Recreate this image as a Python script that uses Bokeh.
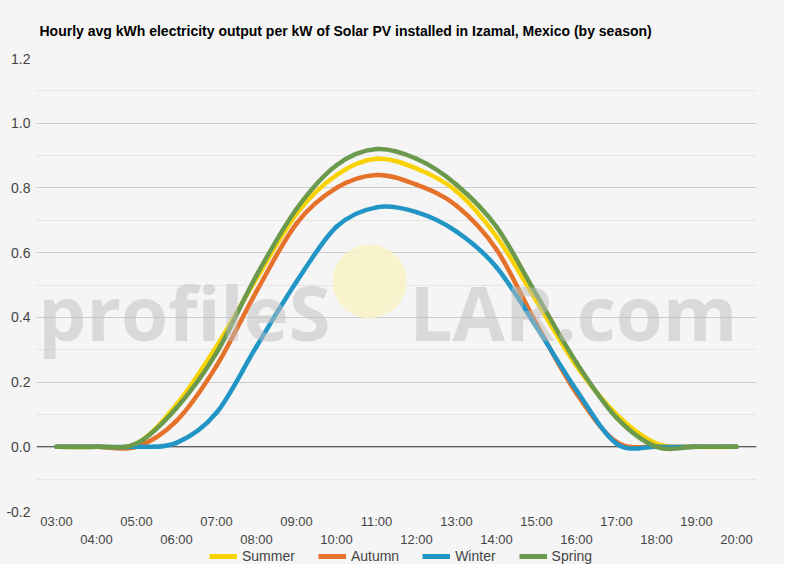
from bokeh.plotting import figure
from bokeh.models import (
    ColumnDataSource, Range1d, FixedTicker, LinearAxis, Legend, LegendItem,
    Span, Label, CustomJSTickFormatter
)
from bokeh.layouts import column
from bokeh.embed import file_html
from bokeh.resources import INLINE

# ---------------------------------------------------------------- data
hours = ["03:00", "04:00", "05:00", "06:00", "07:00", "08:00", "09:00", "10:00", "11:00",
         "12:00", "13:00", "14:00", "15:00", "16:00", "17:00", "18:00", "19:00", "20:00"]

summer = [0, 0, 0.01, 0.13, 0.31, 0.52, 0.72, 0.84, 0.89, 0.86, 0.79, 0.65, 0.45, 0.25, 0.10, 0.01, 0, 0]
autumn = [0, 0, 0, 0.08, 0.25, 0.48, 0.69, 0.80, 0.84, 0.81, 0.745, 0.61, 0.38, 0.165, 0.015, 0, 0, 0]
winter = [0, 0, 0, 0.012, 0.105, 0.31, 0.51, 0.68, 0.74, 0.725, 0.665, 0.555, 0.37, 0.175, 0.01, 0, 0, 0]
spring = [0, 0, 0.01, 0.12, 0.29, 0.53, 0.735, 0.87, 0.92, 0.89, 0.81, 0.68, 0.47, 0.26, 0.09, 0, 0, 0]

series_names = ["Summer", "Autumn", "Winter", "Spring"]
series_colors = ["#f9d300", "#e6712b", "#2196c6", "#6b9a4c"]
series_values = [summer, autumn, winter, spring]

y_ticks = [-0.2, 0.0, 0.2, 0.4, 0.6, 0.8, 1.0, 1.2]
y_minor = [-0.1, 0.1, 0.3, 0.5, 0.7, 0.9, 1.1]

FONT = "Liberation Sans"
BG = "#f5f5f5"


def smooth_segments(vals):
    """Catmull-Rom style bezier pieces through the hourly points (curveType function)."""
    n = len(vals)
    d = dict(x0=[], y0=[], x1=[], y1=[], cx0=[], cy0=[], cx1=[], cy1=[])
    for i in range(n - 1):
        prev = vals[i - 1] if i > 0 else vals[i]
        nxt = vals[i + 2] if i + 2 < n else vals[i + 1]
        d["x0"].append(i)
        d["y0"].append(vals[i])
        d["x1"].append(i + 1)
        d["y1"].append(vals[i + 1])
        d["cx0"].append(i + 1 / 3)
        d["cy0"].append(vals[i] + (vals[i + 1] - prev) / 6)
        d["cx1"].append(i + 2 / 3)
        d["cy1"].append(vals[i + 1] - (nxt - vals[i]) / 6)
    return ColumnDataSource(d)


# -------------------------------------------------------------- main figure
p = figure(
    frame_width=720, frame_height=453,
    x_range=Range1d(-0.5, len(hours) - 0.5),
    y_range=Range1d(-0.2, 1.2),
    output_backend="svg",
    toolbar_location=None,
    tools="",
    min_border_left=36, min_border_right=28, min_border_top=57, min_border_bottom=0,
    background_fill_color=BG,
    border_fill_color=BG,
    outline_line_color=None,
)

p.title.text = "Hourly avg kWh electricity output per kW of Solar PV installed in Izamal, Mexico (by season)"
p.title.text_font = FONT
p.title.text_font_size = "14px"
p.title.text_font_style = "bold"
p.title.text_color = "#000000"
p.title.align = "left"
p.title.offset = 3
p.title.standoff = 40

# y axis + grid
p.yaxis.ticker = FixedTicker(ticks=y_ticks, minor_ticks=y_minor)
p.yaxis.formatter = CustomJSTickFormatter(code="return tick.toFixed(1);")
p.yaxis.axis_line_color = None
p.yaxis.major_tick_line_color = None
p.yaxis.minor_tick_line_color = None
p.yaxis.major_tick_out = 0
p.yaxis.minor_tick_out = 0
p.yaxis.major_label_standoff = 6
p.yaxis.major_label_text_font = FONT
p.yaxis.major_label_text_font_size = "14px"
p.yaxis.major_label_text_color = "#444444"

p.xgrid.grid_line_color = None
p.ygrid.grid_line_color = "#cccccc"
p.ygrid.minor_grid_line_color = "#e5e5e5"

# staggered hour labels: two stacked axes below
odd_ticks = list(range(0, len(hours), 2))
even_ticks = list(range(1, len(hours), 2))
labels = {i: h for i, h in enumerate(hours)}

p.xaxis.ticker = FixedTicker(ticks=odd_ticks)
axis2 = LinearAxis(ticker=FixedTicker(ticks=even_ticks))
p.add_layout(axis2, "below")
for ax, standoff in ((p.xaxis[0], 2), (axis2, 0)):
    ax.major_label_overrides = labels
    ax.axis_line_color = None
    ax.major_tick_line_color = None
    ax.minor_tick_line_color = None
    ax.major_tick_out = 0
    ax.minor_tick_out = 0
    ax.major_label_standoff = standoff
    ax.major_label_text_font = FONT
    ax.major_label_text_font_size = "13px"
    ax.major_label_text_color = "#444444"

zero = Span(location=0, dimension="width", line_color="#333333", line_width=1, level="underlay")
p.add_layout(zero)

# watermark sun
p.scatter(x=[7.825], y=[0.511], size=74, marker="circle",
          fill_color="#f9f2c6", fill_alpha=0.85, line_color=None)

for name, color, vals in zip(series_names, series_colors, series_values):
    src = smooth_segments(vals)
    p.bezier(x0="x0", y0="y0", x1="x1", y1="y1", cx0="cx0", cy0="cy0", cx1="cx1", cy1="cy1",
             source=src, line_color=color, line_width=4.5, line_cap="round")

# watermark text
for txt, x, align in (("profileS", 6.85, "right"), ("LAR.com", 8.825, "left")):
    p.add_layout(Label(
        x=x, y=0.418, text=txt, text_align=align, text_baseline="alphabetic",
        text_font="Open Sans", text_font_size="76px",
        text_font_style="bold", text_color="#bdbdbd", text_alpha=0.5,
    ))

# -------------------------------------------------------------- legend strip
lg = figure(
    width=784, height=15,
    x_range=Range1d(0, 1), y_range=Range1d(0, 1),
    output_backend="svg", toolbar_location=None, tools="",
    min_border=0, outline_line_color=None,
    background_fill_color=BG, border_fill_color=BG,
)
lg.axis.visible = False
lg.grid.visible = False

# key glyphs sit outside the strip's ranges: only their legend swatches show
legend_items = []
for name, color in zip(series_names, series_colors):
    key = lg.line(x=[5, 6], y=[5, 6], line_color=color, line_width=5)
    legend_items.append(LegendItem(label=name, renderers=[key]))

legend = Legend(
    items=legend_items,
    orientation="horizontal",
    location=(173, 0),
    background_fill_alpha=0,
    border_line_color=None,
    label_text_font=FONT,
    label_text_font_size="14px",
    label_text_color="#444444",
    glyph_width=28,
    glyph_height=14,
    label_height=14,
    label_standoff=5,
    spacing=23,
    padding=0,
    margin=0,
)
lg.add_layout(legend, "center")

layout = column(p, lg, spacing=0, styles={"background-color": BG})

open("out.html", "w").write(file_html(layout, INLINE))
